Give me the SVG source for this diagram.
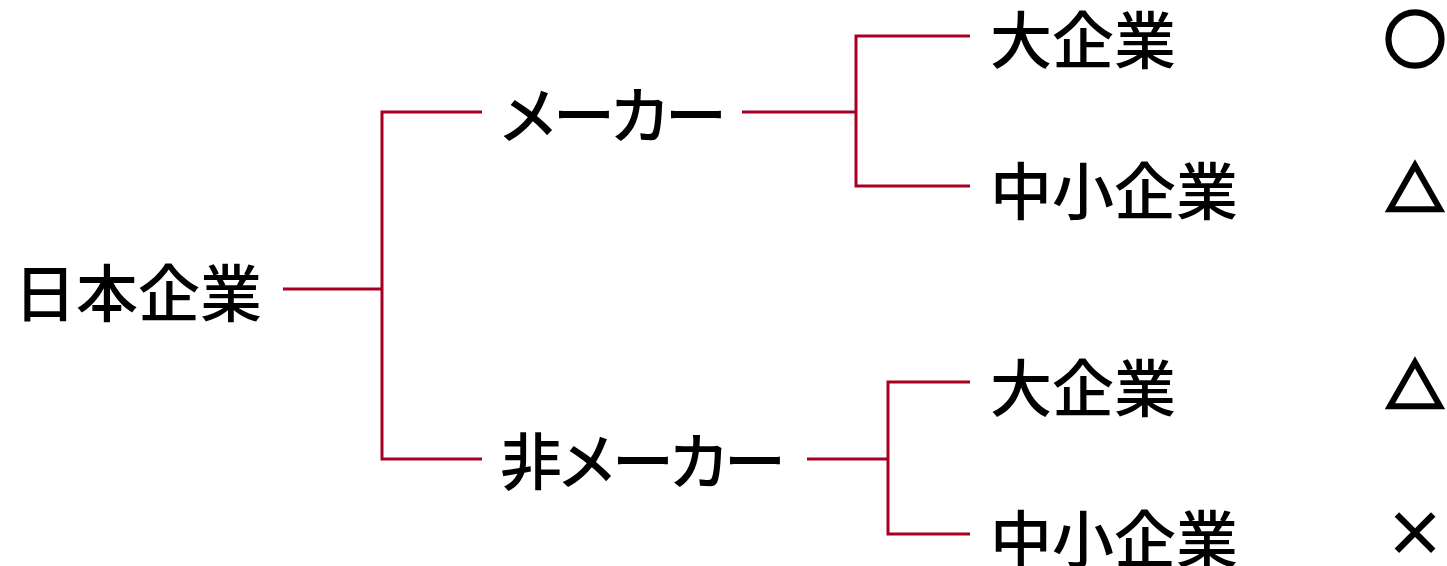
<svg xmlns="http://www.w3.org/2000/svg" width="1447" height="566" viewBox="0 0 1447 566">
<style>
.t{font-family:"Noto Sans CJK JP","Noto Sans CJK SC",sans-serif;font-size:62px;font-weight:500;fill:#000}
.k{letter-spacing:-6px}
.m{font-weight:700}
.s{stroke:#000;stroke-width:3.5;stroke-linejoin:miter}
.tri{font-size:58px}
.c{fill:none;stroke:#a50021;stroke-width:3}
</style>
<rect width="1447" height="566" fill="#fff"/>
<g id="connectors">
<path class="c" d="M283,289 H382 M482,112 H382 V459 H482"/>
<path class="c" d="M742,112 H856 M970,36 H856 V186 H970"/>
<path class="c" d="M807,459 H888 M970,382 H888 V534 H970"/>
</g>
<g id="root"><text class="t" x="14" y="317">日本企業</text></g>
<g id="maker"><text class="t k" x="497" y="139">メーカー</text></g>
<g id="nonmaker"><text class="t k" x="500" y="485">非メーカー</text></g>
<g id="maker-large"><text class="t" x="990" y="64">大企業</text></g>
<g id="maker-small"><text class="t" x="990" y="215">中小企業</text></g>
<g id="nonmaker-large"><text class="t" x="990" y="412">大企業</text></g>
<g id="nonmaker-small"><text class="t" x="990" y="563">中小企業</text></g>
<g id="marks">
<text class="t m s" x="1384" y="63">○</text>
<text class="t m s tri" x="1386" y="211">△</text>
<text class="t m s tri" x="1386" y="408">△</text>
<text class="t m" x="1415" y="557" font-size="50" text-anchor="middle">×</text>
</g>
</svg>
